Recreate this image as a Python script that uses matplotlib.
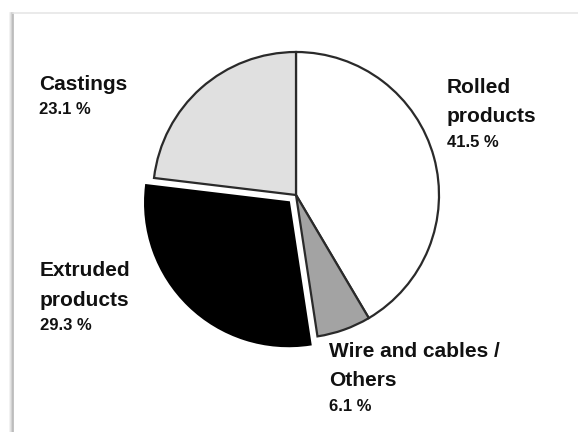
import matplotlib
matplotlib.use("Agg")
import matplotlib.pyplot as plt
from matplotlib.lines import Line2D

categories = ["Rolled\nproducts", "Wire and cables /\nOthers", "Extruded\nproducts", "Castings"]
values = [41.5, 6.1, 29.3, 23.1]
pct_labels = ["41.5 %", "6.1 %", "29.3 %", "23.1 %"]
colors = ["#ffffff", "#a3a3a3", "#000000", "#e0e0e0"]
explode = [0, 0, 0.075, 0]

W, H = 578, 432
fig = plt.figure(figsize=(W / 100, H / 100), dpi=100)
fig.patch.set_facecolor("white")

def px(x, y):
    return x / W, 1 - y / H

# frame with soft shadow on left
for off, c in [(3, "#f0f0f0"), (2, "#e2e2e2"), (1, "#cfcfcf"), (0, "#b8b8b8")]:
    fig.add_artist(Line2D([(13 - off) / W, (13 - off) / W], [1 - 13 / H, 0],
                          color=c, lw=1.2, transform=fig.transFigure))
fig.add_artist(Line2D([13 / W, 1], [1 - 13 / H, 1 - 13 / H], color="#e6e6e6", lw=1.2,
                      transform=fig.transFigure))

cx, cy, r = 296, 195, 143
ax = fig.add_axes([(cx - r) / W, (H - cy - r) / H, 2 * r / W, 2 * r / H])
wedges, _ = ax.pie(values, colors=colors, explode=explode, startangle=90, counterclock=False,
                   radius=1.0, wedgeprops=dict(edgecolor="#2a2a2a", linewidth=1.6))
wedges[2].set_edgecolor("#000000")
wedges[2].set_linewidth(2.2)
for w in wedges:
    w.set_clip_on(False)
ax.set_xlim(-1, 1)
ax.set_ylim(-1, 1)
ax.set_aspect("auto")
ax.axis("off")

fam = ["Liberation Sans", "DejaVu Sans"]
name_fs = 15
pct_fs = 12
# label anchor positions: left x, baseline of first name line (pixels)
label_pos = [(447, 93), (329, 357), (40, 276), (39, 90)]
line_gap = 29.5
pct_gap = 24.5
for cat, pct, (lx, by) in zip(categories, pct_labels, label_pos):
    lines = cat.split("\n")
    for i, ln in enumerate(lines):
        fig.text(*px(lx, by + i * line_gap), ln, ha="left", va="baseline", fontsize=name_fs,
                 fontweight="bold", family=fam, color="#111111")
    fig.text(*px(lx, by + (len(lines) - 1) * line_gap + pct_gap), pct, ha="left",
             va="baseline", fontsize=pct_fs, fontweight="bold", family=fam, color="#111111")

fig.savefig("out.png", dpi=100, facecolor="white")
